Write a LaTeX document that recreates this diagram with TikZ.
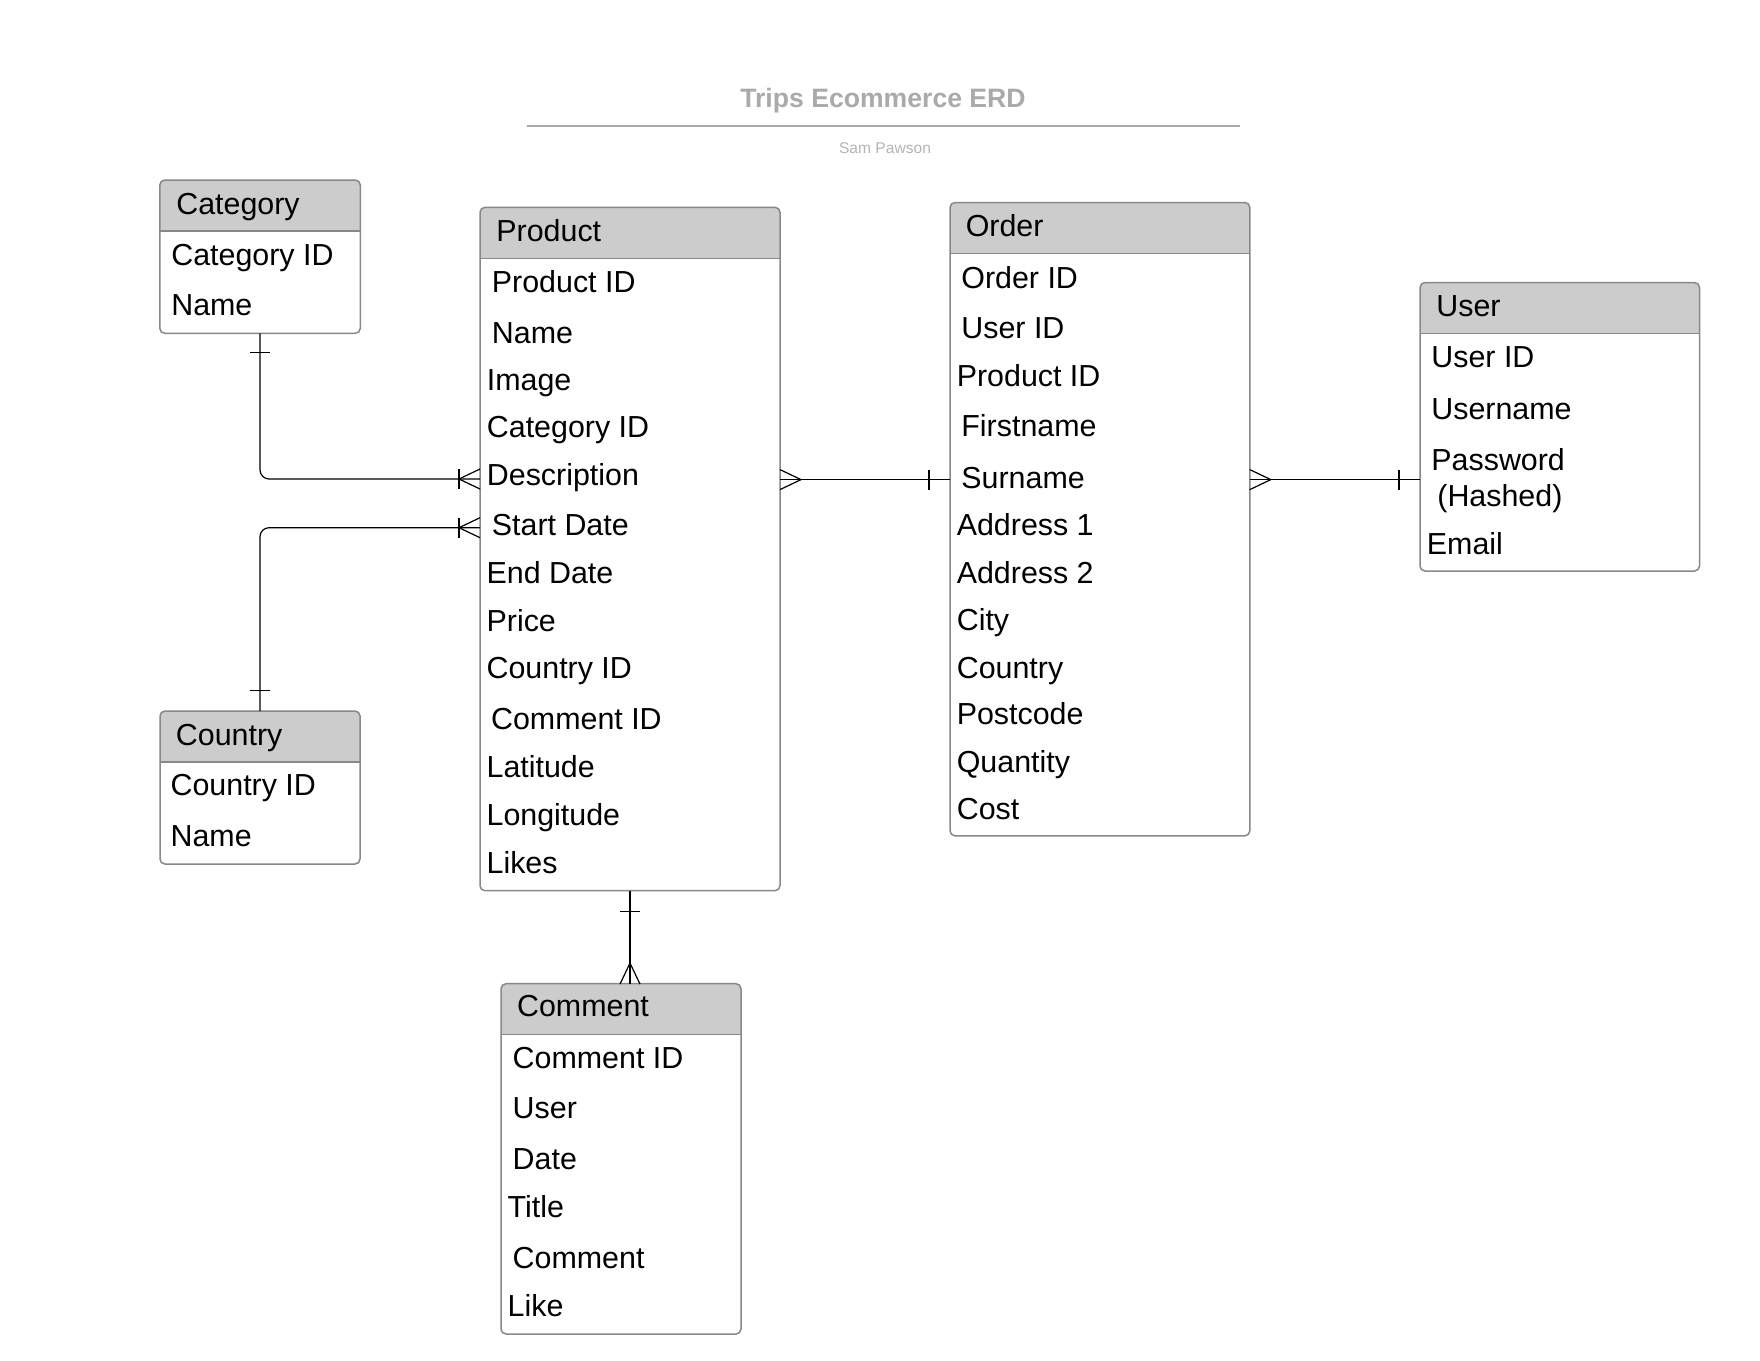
\documentclass[tikz,border=0pt]{standalone}
\usepackage{fontspec}
\setmainfont{Liberation Sans}
\usepackage{tikz}
\usetikzlibrary{positioning}
\definecolor{boxgray}{HTML}{888888}
\definecolor{headfill}{HTML}{CCCCCC}
\definecolor{titlegray}{HTML}{AAAAAA}
\definecolor{subgray}{HTML}{B5B5B5}

\begin{document}
\begin{tikzpicture}[x=0.5pt, y=-0.5pt,
    entity/.style={draw=boxgray, line width=0.75pt, fill=white, rounded corners=2.5pt,
      inner sep=0pt, outer sep=0pt, anchor=north west,
      path picture={
        \fill[headfill, sharp corners] (path picture bounding box.north west)
          rectangle ([yshift=-25.5pt]path picture bounding box.north east);
        \draw[boxgray, line width=0.75pt, sharp corners] ([yshift=-25.5pt]path picture bounding box.north west)
          -- ([yshift=-25.5pt]path picture bounding box.north east);
      }},
    field/.style={anchor=west, inner sep=0pt, text height=10.9pt, text depth=0pt,
      font=\fontsize{15.2}{18}\selectfont},
    conn/.style={draw=black, line width=0.6pt},
    one/.pic={\draw[conn] (0,-10) -- (0,10);},
    many/.pic={\draw[conn] (21,-10) -- (0,0) -- (21,10);}
  ]
      \path[fill=white] (0,0) rectangle (1760,1360);
      \useasboundingbox (0,0) rectangle (1760,1360);

      % title
      \node[inner sep=0pt, text height=9.5pt, text depth=0pt, text=titlegray,
        font=\bfseries\fontsize{13.3}{16}\selectfont] (erdtitle) at (883,97.5) {Trips Ecommerce ERD};
      \draw[titlegray, line width=1.2pt] (527,125.8) -- (1240,125.8);
      \node[inner sep=0pt, text height=5.6pt, text depth=0pt, text=subgray,
        font=\fontsize{7.8}{9}\selectfont] (subtitle) at (885,148) {Sam Pawson};

      % tables
      \node[entity, minimum width=100.25pt, minimum height=76.65pt] (category) at (159.8,180) {};
      \node[entity, minimum width=150pt, minimum height=341.7pt] (product) at (480,207.3) {};
      \node[entity, minimum width=149.9pt, minimum height=316.65pt] (order) at (950,202.5) {};
      \node[entity, minimum width=139.75pt, minimum height=144.25pt] (user) at (1420,282.5) {};
      \node[entity, minimum width=100pt, minimum height=76.5pt] (country) at (160,711) {};
      \node[entity, minimum width=120pt, minimum height=175.15pt] (comment) at (501,983.7) {};

      % category
      \node[field] (cath) at (175.9,203.3) {Category};
      \node[field] (catid) at (170.9,254.7) {Category ID};
      \node[field] (catname) at (170.9,305) {Name};

      % product
      \node[field] (prodh) at (496,230.7) {Product};
      \node[field] (prodid) at (491.5,281.7) {Product ID};
      \node[field] (prodname) at (491.5,332.5) {Name};
      \node[field] (prodimg) at (486.5,380) {Image};
      \node[field] (prodcat) at (486.5,427) {Category ID};
      \node[field] (proddesc) at (486.5,474.7) {Description};
      \node[field] (prodstart) at (491.5,525) {Start Date};
      \node[field] (prodend) at (486.2,573) {End Date};
      \node[field] (prodprice) at (486.2,620.3) {Price};
      \node[field] (prodcountry) at (486.2,667.8) {Country ID};
      \node[field] (prodcomment) at (490.7,718.8) {Comment ID};
      \node[field] (prodlat) at (486.2,767) {Latitude};
      \node[field] (prodlong) at (486.2,814.5) {Longitude};
      \node[field] (prodlikes) at (486.2,863) {Likes};

      % order
      \node[field] (ordh) at (965.4,225.4) {Order};
      \node[field] (ordid) at (961,277.5) {Order ID};
      \node[field] (orduser) at (961,328) {User ID};
      \node[field] (ordprod) at (956.4,375.4) {Product ID};
      \node[field] (ordfirst) at (961,425.8) {Firstname};
      \node[field] (ordsur) at (961,478) {Surname};
      \node[field] (ordaddra) at (956.4,525) {Address 1};
      \node[field] (ordaddrb) at (956.4,572.5) {Address 2};
      \node[field] (ordcity) at (956.4,619.6) {City};
      \node[field] (ordcountry) at (956.4,667.5) {Country};
      \node[field] (ordpost) at (956.4,714) {Postcode};
      \node[field] (ordqty) at (956.4,761.3) {Quantity};
      \node[field] (ordcost) at (956.4,808.3) {Cost};

      % user
      \node[field] (userh) at (1436,305.4) {User};
      \node[field] (userid) at (1431,356.2) {User ID};
      \node[field] (username) at (1431,408.3) {Username};
      \node[field] (userpwd) at (1431,459.2) {Password};
      \node[field] (userhash) at (1437,496) {(Hashed)};
      \node[field] (usermail) at (1426.5,543.8) {Email};

      % country
      \node[field] (counh) at (175.5,734.2) {Country};
      \node[field] (counid) at (170.2,784.8) {Country ID};
      \node[field] (counname) at (170.2,835.8) {Name};

      % comment
      \node[field] (comh) at (516.7,1005.8) {Comment};
      \node[field] (comid) at (512.3,1057.2) {Comment ID};
      \node[field] (comuser) at (512.3,1107.5) {User};
      \node[field] (comdate) at (512.3,1158.3) {Date};
      \node[field] (comtitle) at (507.3,1206.2) {Title};
      \node[field] (comtext) at (512.3,1257.8) {Comment};
      \node[field] (comlike) at (507.3,1305.8) {Like};

      % relations
      \coordinate (pcat) at (product.west |- 0,479);
      \coordinate (pcoun) at (product.west |- 0,527.7);
      \coordinate (pord) at (product.east |- 0,479.6);
      \coordinate (oprod) at (order.west |- 0,479.6);
      \coordinate (ouser) at (order.east |- 0,479.6);
      \coordinate (uord) at (user.west |- 0,479.6);
      \coordinate (cprod) at (comment.north -| product.south);

      \draw[conn, rounded corners=4.5pt] (category.south) |- (pcat);
      \pic[rotate=90] at ([yshift=-9.5pt]category.south) {one};
      \pic at ([xshift=-10.5pt]pcat) {one};
      \pic at ([xshift=-10.5pt]pcat) {many};

      \draw[conn, rounded corners=4.5pt] (country.north) |- (pcoun);
      \pic[rotate=90] at ([yshift=10.3pt]country.north) {one};
      \pic at ([xshift=-10.5pt]pcoun) {one};
      \pic at ([xshift=-10.5pt]pcoun) {many};

      \draw[conn] (pord) -- (oprod);
      \pic[rotate=180] at ([xshift=10.5pt]pord) {many};
      \pic at ([xshift=-10.5pt]oprod) {one};

      \draw[conn] (ouser) -- (uord);
      \pic[rotate=180] at ([xshift=10.5pt]ouser) {many};
      \pic at ([xshift=-10.5pt]uord) {one};

      \draw[conn] (product.south) -- (cprod);
      \pic[rotate=90] at ([yshift=-10.5pt]product.south) {one};
      \pic[rotate=-90] at ([yshift=10.3pt]cprod) {many};
\end{tikzpicture}
\end{document}
